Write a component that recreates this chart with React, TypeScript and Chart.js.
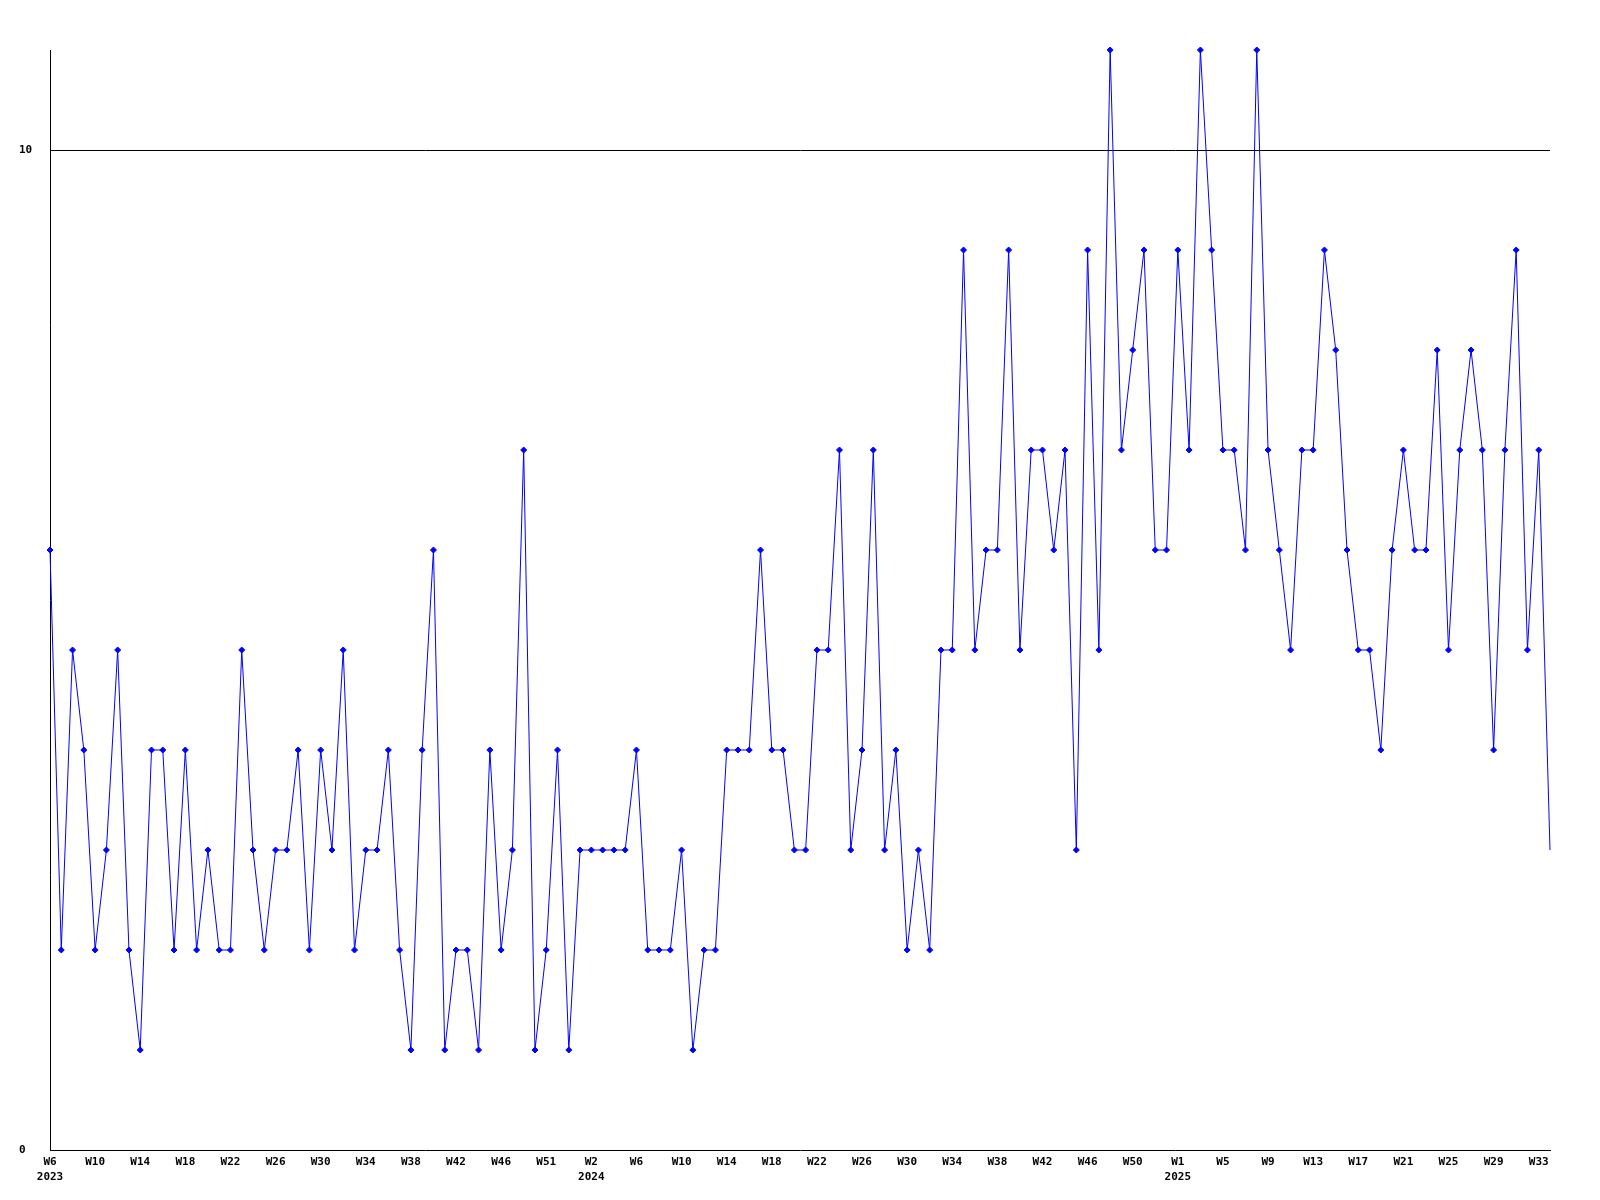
import React, { useEffect, useRef } from "react";
import { Chart, registerables } from "chart.js";

Chart.register(...registerables);

// Weekly values, 2023 W6 .. 2025 W34
const values: number[] = [
  6, 2, 5, 4, 2, 3, 5, 2, 1, 4,
  4, 2, 4, 2, 3, 2, 2, 5, 3, 2,
  3, 3, 4, 2, 4, 3, 5, 2, 3, 3,
  4, 2, 1, 4, 6, 1, 2, 2, 1, 4,
  2, 3, 7, 1, 2, 4, 1, 3, 3, 3,
  3, 3, 4, 2, 2, 2, 3, 1, 2, 2,
  4, 4, 4, 6, 4, 4, 3, 3, 5, 5,
  7, 3, 4, 7, 3, 4, 2, 3, 2, 5,
  5, 9, 5, 6, 6, 9, 5, 7, 7, 6,
  7, 3, 9, 5, 11, 7, 8, 9, 6, 6,
  9, 7, 11, 9, 7, 7, 6, 11, 7, 6,
  5, 7, 7, 9, 8, 6, 5, 5, 4, 6,
  7, 6, 6, 8, 5, 7, 8, 7, 4, 7,
  9, 5, 7, 3,
];

// Tick labels, one every 4 points
const weekTicks: string[] = [
  "W6", "W10", "W14", "W18", "W22", "W26", "W30", "W34", "W38", "W42", "W46", "W51",
  "W2", "W6", "W10", "W14", "W18", "W22", "W26", "W30", "W34", "W38", "W42", "W46", "W50",
  "W1", "W5", "W9", "W13", "W17", "W21", "W25", "W29", "W33",
];
const yearTicks: string[] = [
  "2023", "", "", "", "", "", "", "", "", "", "", "",
  "2024", "", "", "", "", "", "", "", "", "", "", "", "",
  "2025", "", "", "", "", "", "", "", "",
];
const tickEvery = 4;
const yMax = 11;
const yStep = 10;

export default function App() {
  const ref = useRef<HTMLCanvasElement>(null);

  useEffect(() => {
    document.body.style.margin = "0";
    const canvas = ref.current!;
    const font = { family: "'DejaVu Sans Mono', 'Liberation Mono', monospace", size: 11, weight: "bold" as const, lineHeight: 1.4 };
    const chart = new Chart(canvas, {
      type: "line",
      data: {
        datasets: [
          {
            data: values.map((v, i) => ({ x: i, y: v })),
            borderColor: "#0000ff",
            backgroundColor: "#0000ff",
            borderWidth: 1,
            pointStyle: "rectRot",
            pointRadius: (ctx: any) => (ctx.dataIndex === values.length - 1 ? 0 : 3),
            pointBorderWidth: 1,
            pointBorderColor: "#0000ff",
            pointBackgroundColor: "#0000ff",
            tension: 0,
            clip: false as any,
          },
        ],
      },
      options: {
        animation: false,
        responsive: false,
        devicePixelRatio: 1,
        layout: { padding: { left: 19, right: 50, top: 50, bottom: 5 } },
        plugins: { legend: { display: false }, tooltip: { enabled: false } },
        scales: {
          x: {
            type: "linear",
            min: 0,
            max: values.length - 1,
            grid: { display: false, drawTicks: false },
            border: { display: true, color: "#000", width: 1 },
            afterFit: (s: any) => { s.height = 45; },
            ticks: {
              stepSize: tickEvery,
              includeBounds: false,
              autoSkip: false,
              maxRotation: 0,
              padding: 4,
              color: "#000",
              font,
              callback: (v: any) => {
                const k = Math.round(Number(v) / tickEvery);
                if (Number(v) % tickEvery !== 0 || k >= weekTicks.length) return "";
                return yearTicks[k] ? [weekTicks[k], yearTicks[k]] : weekTicks[k];
              },
            },
          },
          y: {
            min: 0,
            max: yMax,
            afterFit: (s: any) => { s.width = 31; },
            grid: {
              color: (c: any) => (c.tick && c.tick.value === 0 ? "rgba(0,0,0,0)" : "#000"),
              drawTicks: false,
              lineWidth: 1,
            },
            border: { display: true, color: "#000", width: 1 },
            ticks: {
              stepSize: yStep,
              includeBounds: false,
              crossAlign: "far",
              padding: 0,
              color: "#000",
              font,
            },
          },
        },
      },
    });
    return () => chart.destroy();
  }, []);

  return <canvas ref={ref} width={1600} height={1200} style={{ display: "block" }} />;
}
